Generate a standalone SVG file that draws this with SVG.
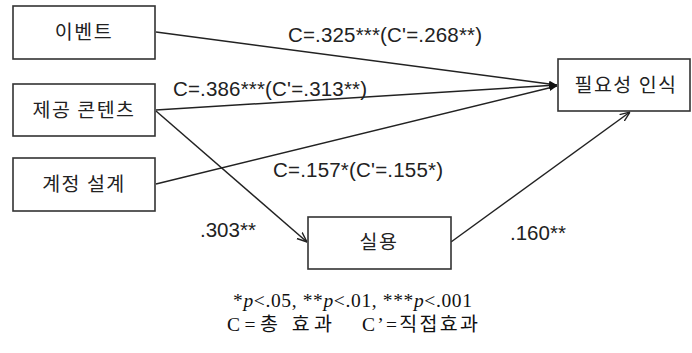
<svg xmlns="http://www.w3.org/2000/svg" width="692" height="353" viewBox="0 0 692 353">
<style>
.box{fill:#fff;stroke:#333;stroke-width:1.6}
.kt{font-family:"Noto Sans CJK KR","Liberation Sans",sans-serif;font-size:19.5px;fill:#222;letter-spacing:1.5px}
.lb{font-family:"Liberation Sans",Arial,sans-serif;font-size:20.5px;fill:#222}
.ln{fill:none;stroke:#222;stroke-width:1.5}
.ft{font-family:"Liberation Serif","Noto Sans CJK KR",serif;font-size:19.5px;fill:#111}
</style>
<defs>
<marker id="solid" viewBox="0 0 10 10" refX="10" refY="5" markerWidth="8" markerHeight="8" markerUnits="userSpaceOnUse" orient="auto">
<path d="M0,1 L10,5 L0,9 Z" fill="#111"/>
</marker>
<marker id="open" viewBox="0 0 10 10" refX="10" refY="5" markerWidth="10" markerHeight="10" markerUnits="userSpaceOnUse" orient="auto">
<path d="M0,1 L10,5 L0,9" fill="none" stroke="#222" stroke-width="1.4"/>
</marker>
</defs>
<rect width="692" height="353" fill="#fff"/>
<g id="connectors">
<line class="ln" x1="156" y1="32" x2="557" y2="85" marker-end="url(#solid)"/>
<line class="ln" x1="156" y1="110" x2="557" y2="85" marker-end="url(#solid)"/>
<line class="ln" x1="156" y1="184" x2="557" y2="86" marker-end="url(#solid)"/>
<line class="ln" x1="156" y1="111" x2="307" y2="242" marker-end="url(#open)"/>
<line class="ln" x1="451" y1="242" x2="630" y2="112" marker-end="url(#open)"/>
<text class="lb" x="288" y="42" textLength="194">C=.325***(C'=.268**)</text>
<text class="lb" x="173" y="96" textLength="194">C=.386***(C'=.313**)</text>
<text class="lb" x="273" y="177" textLength="170">C=.157*(C'=.155*)</text>
<text class="lb" x="200" y="237">.303**</text>
<text class="lb" x="510" y="240">.160**</text>
</g>
<g id="event">
<rect class="box" x="13" y="6" width="142" height="53"/>
<text class="kt" x="84" y="39" text-anchor="middle">이벤트</text>
</g>
<g id="content">
<rect class="box" x="13" y="84" width="142" height="52"/>
<text class="kt" x="84" y="117" text-anchor="middle">제공 콘텐츠</text>
</g>
<g id="account">
<rect class="box" x="13" y="158" width="142" height="53"/>
<text class="kt" x="84" y="191" text-anchor="middle">계정 설계</text>
</g>
<g id="practical">
<rect class="box" x="308" y="217" width="143" height="52"/>
<text class="kt" x="379" y="249" text-anchor="middle">실용</text>
</g>
<g id="need">
<rect class="box" x="558" y="59" width="132" height="52"/>
<text class="kt" x="626" y="92" text-anchor="middle">필요성 인식</text>
</g>
<g id="footnote">
<text class="ft" x="233" y="307" textLength="239" lengthAdjust="spacing">*<tspan font-style="italic">p</tspan>&lt;.05, **<tspan font-style="italic">p</tspan>&lt;.01, ***<tspan font-style="italic">p</tspan>&lt;.001</text>
<text class="ft" x="227" y="331" textLength="105" lengthAdjust="spacing">C=총 효과</text>
<text class="ft" x="362" y="331" textLength="116" lengthAdjust="spacing">C’=직접효과</text>
</g>
</svg>
